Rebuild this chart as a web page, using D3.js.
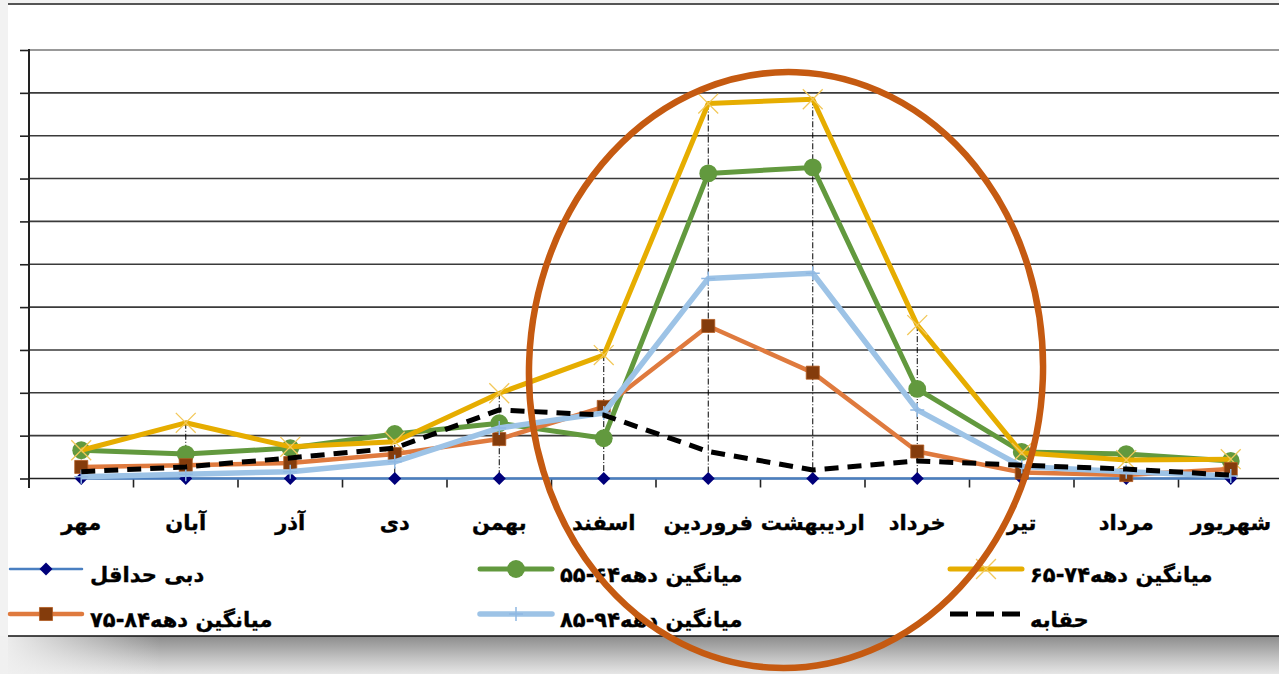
<!DOCTYPE html>
<html><head><meta charset="utf-8">
<script src="https://cdn.jsdelivr.net/npm/d3@7"></script>
<style>
html,body{margin:0;padding:0;background:#fff;overflow:hidden}
svg{display:block}
text{font-family:"DejaVu Sans",sans-serif;font-weight:bold;fill:#000;stroke:#000;stroke-width:0.35px}
</style></head>
<body>
<svg id="c" width="1279" height="674"></svg>
<script>
const months = ["مهر","آبان","آذر","دی","بهمن","اسفند","فروردین","اردیبهشت","خرداد","تیر","مرداد","شهریور"];
const minFlow = [0,0,0,0,0,0,0,0,0,0,0,0];
const d5564 = [0.66,0.57,0.71,1.04,1.29,0.94,7.12,7.26,2.09,0.62,0.57,0.41];
const d6574 = [0.66,1.30,0.74,0.86,1.99,2.88,8.75,8.85,3.58,0.60,0.43,0.45];
const d7584 = [0.27,0.31,0.36,0.57,0.92,1.67,3.56,2.47,0.63,0.14,0.08,0.22];
const d8594 = [0.04,0.10,0.16,0.39,1.18,1.53,4.67,4.79,1.60,0.28,0.16,0.06];
const haqabeh = [0.16,0.27,0.48,0.71,1.60,1.48,0.63,0.20,0.41,0.31,0.22,0.08];
const yTicks = [0,1,2,3,4,5,6,7,8,9,10];
const seriesNames = ["دبی حداقل","میانگین دهه۶۴-۵۵","میانگین دهه۷۴-۶۵","میانگین دهه۸۴-۷۵","میانگین دهه۹۴-۸۵","حقابه"];

const series = [
  {name:seriesNames[0], values:minFlow, color:"#4a7fc1", width:2.5, marker:"diamond", mcolor:"#00007a"},
  {name:seriesNames[1], values:d5564, color:"#62993e", width:5, marker:"circle", mcolor:"#62993e"},
  {name:seriesNames[2], values:d6574, color:"#e6ad00", width:5, marker:"x", mcolor:"#f2c85a"},
  {name:seriesNames[3], values:d7584, color:"#df7a3e", width:4.5, marker:"square", mcolor:"#843c0c"},
  {name:seriesNames[4], values:d8594, color:"#9dc3e6", width:5.5, marker:"plus", mcolor:"#8fb8e2"},
  {name:seriesNames[5], values:haqabeh, color:"#000", width:5, marker:null, dash:"14,9"}
];

const svg = d3.select("#c");
const W = 1279, H = 674;

// frame / shadow
const defs = svg.append("defs");
const g1 = defs.append("linearGradient").attr("id","shadowV").attr("x1",0).attr("y1",0).attr("x2",0).attr("y2",1);
g1.append("stop").attr("offset","0%").attr("stop-color","#8c8c8c");
g1.append("stop").attr("offset","60%").attr("stop-color","#c4c4c4");
g1.append("stop").attr("offset","100%").attr("stop-color","#e6e6e6");
const g2 = defs.append("linearGradient").attr("id","shadowH").attr("x1",0).attr("y1",0).attr("x2",1).attr("y2",0);
g2.append("stop").attr("offset","0%").attr("stop-color","#f0f0f0").attr("stop-opacity",1);
g2.append("stop").attr("offset","100%").attr("stop-color","#f0f0f0").attr("stop-opacity",0);

svg.append("rect").attr("x",0).attr("y",0).attr("width",W).attr("height",H).attr("fill","#f2f2f2");
svg.append("rect").attr("x",8).attr("y",4).attr("width",W-8).attr("height",632).attr("fill","#fff");
svg.append("rect").attr("x",8).attr("y",636).attr("width",W-8).attr("height",H-636).attr("fill","url(#shadowV)");
svg.append("rect").attr("x",0).attr("y",636).attr("width",160).attr("height",H-636).attr("fill","url(#shadowH)");
svg.append("line").attr("x1",8).attr("x2",W).attr("y1",4).attr("y2",4).attr("stroke","#555").attr("stroke-width",2);
svg.append("line").attr("x1",8).attr("x2",W).attr("y1",636).attr("y2",636).attr("stroke","#111").attr("stroke-width",1.5);

// scales
const x = d3.scaleBand().domain(months).range([29, 1283]).padding(0);
const y = d3.scaleLinear().domain([0,10]).range([478.5, 50]);
const cx = m => x(m) + x.bandwidth()/2;

// gridlines
svg.append("g").selectAll("line").data(yTicks.filter(t=>t>0)).join("line")
  .attr("x1",29).attr("x2",W).attr("y1",d=>y(d)).attr("y2",d=>y(d))
  .attr("stroke",d=>d===10?"#777":"#3a3a3a").attr("stroke-width",1.6);

// y axis
const yAxis = d3.axisLeft(y).tickValues(yTicks).tickSize(9).tickFormat("");
const ya = svg.append("g").attr("transform","translate(29,0)").call(yAxis);
ya.select(".domain").remove();
ya.selectAll(".tick line").attr("stroke","#222").attr("stroke-width",1.6);
svg.append("line").attr("x1",29).attr("x2",29).attr("y1",49).attr("y2",488).attr("stroke","#222").attr("stroke-width",2);

// x axis
svg.append("line").attr("x1",29).attr("x2",W).attr("y1",y(0)).attr("y2",y(0)).attr("stroke","#222").attr("stroke-width",1.6);
const bounds = months.map(m=>x(m)).concat([x(months[months.length-1])+x.bandwidth()]);
svg.append("g").selectAll("line").data(bounds).join("line")
  .attr("x1",d=>d).attr("x2",d=>d).attr("y1",y(0)).attr("y2",y(0)+9)
  .attr("stroke","#222").attr("stroke-width",1.6);
svg.append("g").selectAll("text").data(months).join("text")
  .attr("x",d=>cx(d)).attr("y",530).attr("text-anchor","middle")
  .attr("font-size",21).text(d=>d);

// high-low lines
svg.append("g").selectAll("line").data(months).join("line")
  .attr("x1",d=>cx(d)).attr("x2",d=>cx(d))
  .attr("y1",(d,i)=>y(d3.max(series,s=>s.values[i])))
  .attr("y2",(d,i)=>y(d3.min(series,s=>s.values[i])))
  .attr("stroke","#000").attr("stroke-width",1).attr("stroke-dasharray","6,2,1,2");

function drawMarker(g, type, color, px, py){
  if(type==="diamond"){
    g.append("path").attr("d",d3.symbol(d3.symbolSquare,85)()).attr("transform",`translate(${px},${py}) rotate(45)`).attr("fill",color);
  } else if(type==="circle"){
    g.append("path").attr("d",d3.symbol(d3.symbolCircle,250)()).attr("transform",`translate(${px},${py})`).attr("fill",color);
  } else if(type==="square"){
    g.append("path").attr("d",d3.symbol(d3.symbolSquare,170)()).attr("transform",`translate(${px},${py})`).attr("fill",color).attr("stroke","#b35a1f").attr("stroke-width",0.8);
  } else if(type==="x"){
    g.append("path").attr("d",d3.symbol(d3.symbolTimes,260)()).attr("transform",`translate(${px},${py})`).attr("fill","none").attr("stroke",color).attr("stroke-width",1.3);
  } else if(type==="plus"){
    const s=7;
    g.append("path").attr("d",`M${px-s},${py}H${px+s}M${px},${py-s}V${py+s}`).attr("stroke",color).attr("stroke-width",1.5).attr("fill","none");
  }
}

const line = d3.line().x((d,i)=>cx(months[i])).y(d=>y(d));
series.forEach(s=>{
  const g = svg.append("g");
  g.append("path").datum(s.values).attr("d",line).attr("fill","none")
    .attr("stroke",s.color).attr("stroke-width",s.width).attr("stroke-linejoin","round")
    .attr("stroke-dasharray",s.dash||null);
  if(s.marker) s.values.forEach((v,i)=>drawMarker(g,s.marker,s.mcolor,cx(months[i]),y(v)));
});

// legend
const legPos = [[10,569],[480,569],[950,569],[10,614],[480,614],[950,614]];
const legOrder = [0,1,2,3,4,5];
legOrder.forEach((si,k)=>{
  const s = series[si]; const [lx,ly] = legPos[k];
  const g = svg.append("g");
  g.append("line").attr("x1",lx).attr("x2",lx+72).attr("y1",ly).attr("y2",ly)
    .attr("stroke",s.color).attr("stroke-width",s.width).attr("stroke-linecap",s.dash?"butt":"round")
    .attr("stroke-dasharray",s.dash?"18,8":null);
  if(s.marker) drawMarker(g,s.marker,s.mcolor,lx+36,ly);
  g.append("text").attr("x",lx+80).attr("y",ly+13).attr("font-size",21).text(s.name);
});

// ellipse highlight
svg.append("ellipse").attr("cx",786).attr("cy",370).attr("rx",257).attr("ry",298)
  .attr("transform","rotate(2,786,370)")
  .attr("fill","none").attr("stroke","#c55a11").attr("stroke-width",6.5);
</script>
</body></html>
